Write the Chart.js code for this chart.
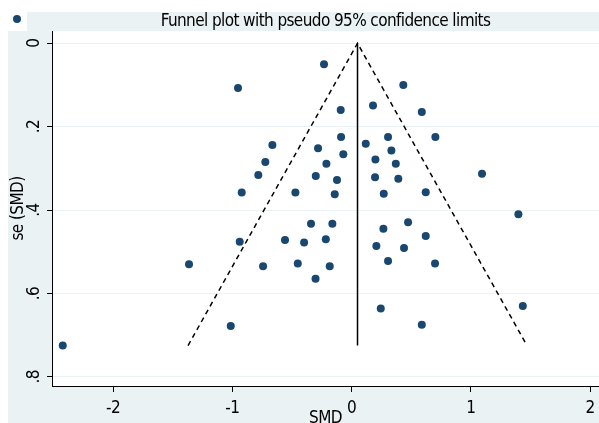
<!DOCTYPE html>
<html>
<head>
<meta charset="utf-8">
<title>Funnel plot</title>
<script src="https://cdn.jsdelivr.net/npm/chart.js@4/dist/chart.umd.min.js"></script>
<style>
  html, body { margin: 0; padding: 0; background: #fff; }
</style>
</head>
<body>
<canvas id="funnelChart" width="599" height="423"></canvas>
<script>
// Funnel plot - study effect sizes (SMD) against their standard errors

const smd = [
  -0.231, -0.952, 0.434, -0.091, 0.180, 0.589, -0.088, 0.306, 0.703, -0.664,
  -0.281, 0.119, 0.334, -0.069, -0.723, -0.211, 0.200, 0.371, -0.782, -0.300,
  -0.122, 0.197, 0.392, 1.094, -0.921, -0.471, -0.141, 0.270, 0.622, 1.399,
  -0.340, -0.161, 0.474, 0.267, -0.938, -0.558, -0.398, -0.216, 0.622, 0.208,
  0.440, -1.363, -0.742, -0.451, -0.183, 0.306, 0.700, -0.302, 1.436, 0.245,
  -1.013, 0.589, -2.422
];
const seSmd = [
  0.050, 0.107, 0.100, 0.160, 0.149, 0.165, 0.225, 0.225, 0.225, 0.244,
  0.252, 0.241, 0.257, 0.266, 0.285, 0.289, 0.279, 0.289, 0.316, 0.318,
  0.328, 0.321, 0.325, 0.313, 0.358, 0.358, 0.362, 0.361, 0.357, 0.410,
  0.433, 0.433, 0.429, 0.445, 0.476, 0.472, 0.478, 0.470, 0.462, 0.486,
  0.491, 0.530, 0.535, 0.528, 0.535, 0.522, 0.528, 0.565, 0.630, 0.636,
  0.678, 0.675, 0.725
];
const pooledSmd = 0.05;
const smdTicks = [-2, -1, 0, 1, 2];
const seTicks = [0, 0.2, 0.4, 0.6, 0.8];

const TITLE = 'Funnel plot with pseudo 95% confidence limits';
const NAVY = '#1a476f';
const BG = '#eaf2f3';

Chart.defaults.font.family = '"DejaVu Sans Condensed", "Liberation Sans", sans-serif';
Chart.defaults.font.size = 17;
Chart.defaults.color = '#000';

const seMax = Math.max(...seSmd);
const points = smd.map((x, i) => ({ x, y: seSmd[i] }));
const funnel = [
  { x: pooledSmd - 1.96 * seMax, y: seMax },
  { x: pooledSmd, y: 0 },
  { x: pooledSmd + 1.96 * seMax, y: seMax }
];
const pooledLine = [{ x: pooledSmd, y: 0 }, { x: pooledSmd, y: seMax }];

function formatSe(v) {
  return v === 0 ? '0' : v.toFixed(1).replace(/^0/, '');
}

// tighter text so the condensed font is closer to Stata's narrow one
function tightText(chart) {
  chart.ctx.letterSpacing = '-0.6px';
}

// grey graph region, white plot region and the legend key
const frame = {
  id: 'frame',
  beforeUpdate: tightText,
  beforeDraw(chart) {
    const { ctx, chartArea: a, width, height } = chart;
    tightText(chart);
    ctx.save();
    ctx.fillStyle = '#fff';
    ctx.fillRect(0, 0, width, height);
    ctx.fillStyle = BG;
    ctx.fillRect(8, a.top, width - 8, height - a.top);
    ctx.fillRect(27, 12, width - 27, a.top - 12);
    ctx.fillStyle = '#fff';
    ctx.fillRect(a.left, a.top, a.right - a.left, a.bottom - a.top);
    ctx.fillStyle = NAVY;
    ctx.beginPath();
    ctx.arc(17, 19, 4, 0, Math.PI * 2);
    ctx.fill();
    ctx.restore();
  }
};

new Chart(document.getElementById('funnelChart'), {
  type: 'scatter',
  data: {
    datasets: [
      {
        label: 'Studies',
        data: points,
        pointRadius: 4,
        pointHoverRadius: 4,
        backgroundColor: NAVY,
        borderColor: NAVY,
        borderWidth: 0
      },
      {
        label: 'Pseudo 95% CI',
        data: funnel,
        showLine: true,
        pointRadius: 0,
        borderColor: '#000',
        borderWidth: 1.5,
        borderDash: [5, 4]
      },
      {
        label: 'Pooled',
        data: pooledLine,
        showLine: true,
        pointRadius: 0,
        borderColor: '#000',
        borderWidth: 1.5
      }
    ]
  },
  options: {
    responsive: false,
    animation: false,
    layout: { padding: 0, autoPadding: false },
    plugins: {
      legend: { display: false },
      tooltip: { enabled: false },
      title: {
        display: true,
        text: TITLE,
        fullSize: false,
        color: '#000',
        font: { size: 17, weight: 'normal', lineHeight: 1 },
        padding: { top: 13, bottom: 1 }
      }
    },
    scales: {
      x: {
        type: 'linear',
        min: -2.512,
        max: 2.075,
        afterBuildTicks: s => { s.ticks = smdTicks.map(v => ({ value: v })); },
        afterFit: s => { s.height = 37; s.paddingLeft = 0; s.paddingRight = 0; },
        ticks: { padding: 6.3, maxRotation: 0, callback: v => String(v) },
        grid: { drawOnChartArea: false, tickColor: '#000', tickLength: 6 },
        border: { color: '#000', width: 1 },
        title: { display: true, text: 'SMD', font: { size: 17, lineHeight: 1 }, padding: { top: 0, bottom: -4 } }
      },
      y: {
        type: 'linear',
        reverse: true,
        min: -0.0295,
        max: 0.822,
        afterBuildTicks: s => { s.ticks = seTicks.map(v => ({ value: v })); },
        afterFit: s => { s.width = 52; s.paddingTop = 0; s.paddingBottom = 0; },
        ticks: { padding: 5.3, minRotation: 90, maxRotation: 90, crossAlign: 'center', callback: v => formatSe(v) },
        grid: { color: BG, tickColor: '#000', tickLength: 5 },
        border: { color: '#000', width: 1 },
        title: { display: true, text: 'se (SMD)', font: { size: 17, lineHeight: 1 }, padding: { top: 10.5, bottom: 0 } }
      }
    }
  },
  plugins: [frame]
});
</script>
</body>
</html>
